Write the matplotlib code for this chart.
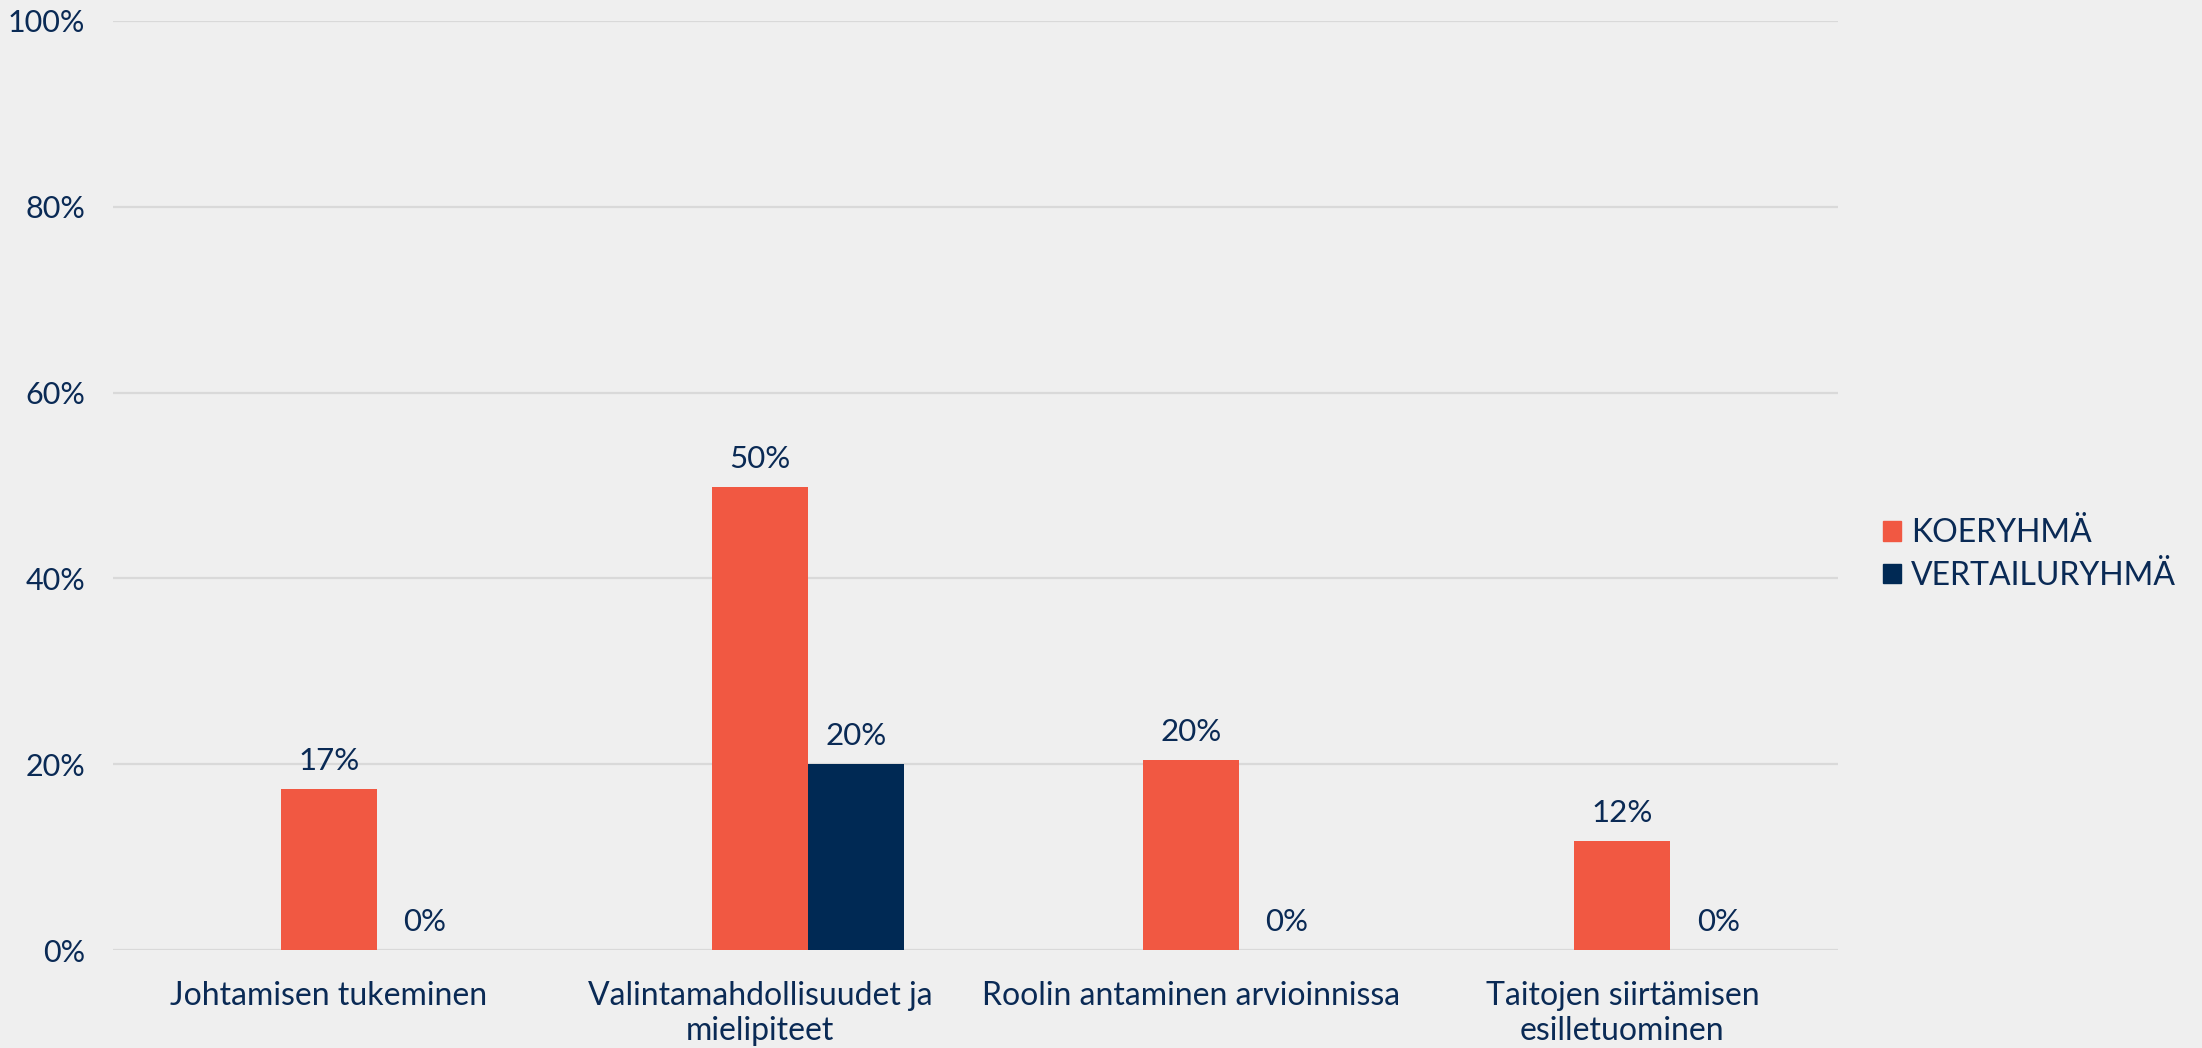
import matplotlib
matplotlib.use("Agg")
import matplotlib.pyplot as plt
import numpy as np
from matplotlib.patches import Patch

categories = ["Johtamisen tukeminen", "Valintamahdollisuudet ja\nmielipiteet",
              "Roolin antaminen arvioinnissa", "Taitojen siirtämisen\nesilletuominen"]
koeryhma = [17.3, 49.8, 20.5, 11.7]
vertailuryhma = [0.0, 20.0, 0.0, 0.0]
koe_labels = ["17%", "50%", "20%", "12%"]
vert_labels = ["0%", "20%", "0%", "0%"]
series_names = ["KOERYHMÄ", "VERTAILURYHMÄ"]
yticks = [0, 20, 40, 60, 80, 100]
ytick_labels = ["0%", "20%", "40%", "60%", "80%", "100%"]

RED = "#F15842"
NAVY = "#002954"
TXT = "#0A2A55"
BG = "#EFEFEF"
GRID = "#D9D9D9"

plt.rcParams['font.family'] = ['Lato', 'DejaVu Sans']

fig = plt.figure(figsize=(22.02, 10.48), dpi=100, facecolor=BG)
ax = fig.add_axes([113/2202, 98/1048, (1838-113)/2202, (950-21)/1048])
ax.set_facecolor(BG)

x = np.arange(len(categories))
w = 0.2226
b1 = ax.bar(x, koeryhma, w, color=RED, zorder=3)
b2 = ax.bar(x + w, vertailuryhma, w, color=NAVY, zorder=3)

for bars, labels in ((b1, koe_labels), (b2, vert_labels)):
    for rect, lab in zip(bars, labels):
        ax.annotate(lab, (rect.get_x() + rect.get_width()/2, rect.get_height()),
                    xytext=(0, 10), textcoords="offset points", ha="center", va="bottom",
                    fontsize=22.5, color=TXT)

ax.set_xlim(-0.5, len(categories) - 0.5)
ax.set_ylim(0, 100)
ax.set_yticks(yticks)
ax.set_yticklabels(ytick_labels)
ax.set_xticks(x)
ax.set_xticklabels(categories, linespacing=1.22)
ax.tick_params(axis='y', length=0, pad=20, labelsize=22, labelcolor=TXT)
ax.tick_params(axis='x', length=0, pad=22, labelsize=23, labelcolor=TXT)
ax.grid(axis='y', color=GRID, linewidth=1.6, zorder=0)
ax.set_axisbelow(True)
for s in ax.spines.values():
    s.set_visible(False)

handles = [Patch(color=RED, label=series_names[0]), Patch(color=NAVY, label=series_names[1])]
fig.legend(handles=handles, loc="center left", bbox_to_anchor=(1883/2202, 1 - 554.5/1048),
           frameon=False, fontsize=23, labelcolor=TXT, handlelength=0.57, handleheight=0.57,
           handletextpad=0.3, labelspacing=0.4, borderpad=0, borderaxespad=0)

fig.savefig("out.png", dpi=100, facecolor=BG)
